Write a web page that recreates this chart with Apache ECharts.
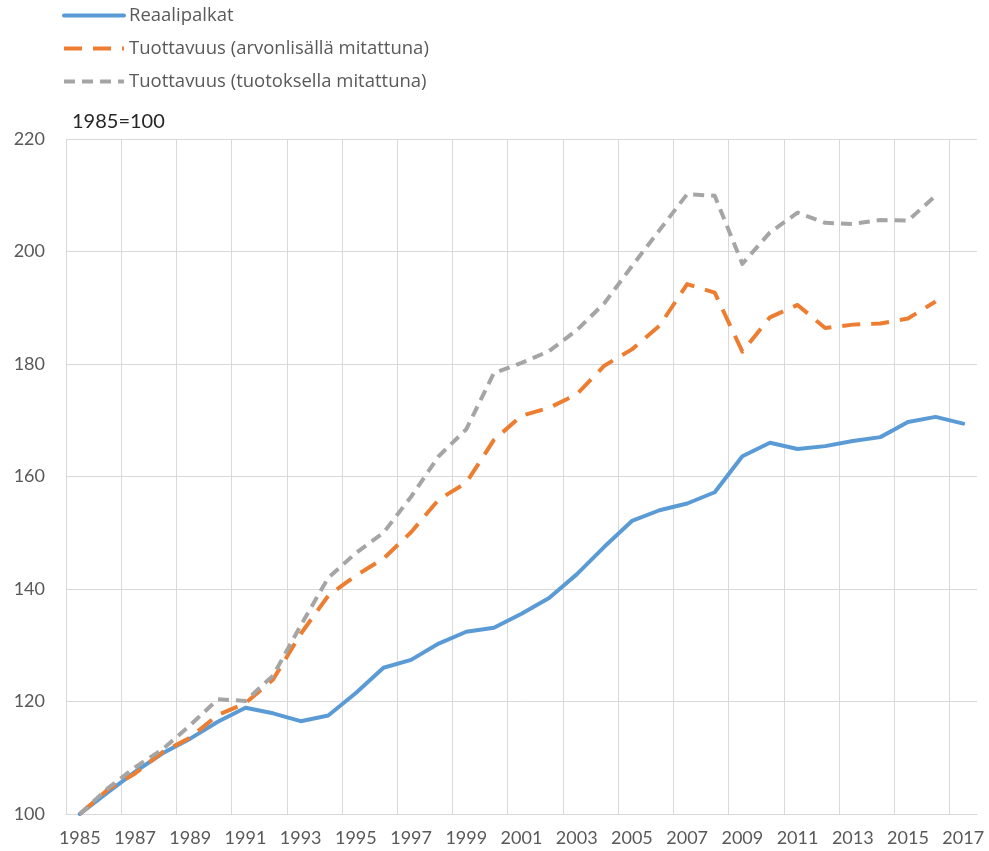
<!DOCTYPE html>
<html><head><meta charset="utf-8">
<script src="https://cdn.jsdelivr.net/npm/echarts@6/dist/echarts.min.js"></script>
<style>html,body{margin:0;padding:0;background:#fff}#c{width:989px;height:851px}</style>
</head><body><div id="c"></div>
<script>
const years = ['1985','1986','1987','1988','1989','1990','1991','1992','1993','1994','1995','1996','1997','1998','1999','2000','2001','2002','2003','2004','2005','2006','2007','2008','2009','2010','2011','2012','2013','2014','2015','2016','2017'];
const reaalipalkat = [100,103.8,107.5,110.8,113.4,116.4,118.9,117.9,116.5,117.5,121.5,126.0,127.4,130.3,132.4,133.1,135.6,138.4,142.6,147.5,152.1,154.0,155.2,157.2,163.6,166.0,164.9,165.4,166.3,167.0,169.7,170.6,169.4];
const tuottavuusArvonlisa = [100,104.3,107.2,111.0,113.6,117.6,119.7,123.9,132.0,138.8,142.4,145.4,150.1,155.9,158.9,166.5,170.8,172.2,174.6,179.7,182.6,186.8,194.2,192.7,182.2,188.3,190.5,186.4,187.0,187.2,188.1,191.1,null];
const tuottavuusTuotos = [100,104.5,108.3,111.5,115.8,120.4,120.1,124.6,133.5,142.0,146.4,150.0,156.4,163.6,168.4,178.4,180.2,182.3,186.0,190.8,197.4,203.8,210.2,209.9,197.8,203.4,206.9,205.1,204.9,205.6,205.5,209.9,null];
const seriesNames = ['Reaalipalkat','Tuottavuus (arvonlisällä mitattuna)','Tuottavuus (tuotoksella mitattuna)'];
const yMin = 100, yMax = 220, yStep = 20;
const baseLabel = '1985=100';

const FONT = 'Lato, "Open Sans", sans-serif';
const grid = '#d9d9d9';
const xSplitColors = [];
for (let i = 0; i < 17; i++) xSplitColors.push(grid);
xSplitColors.push('rgba(0,0,0,0)');

const chart = echarts.init(document.getElementById('c'), null, {renderer: 'canvas'});
chart.setOption({
  animation: false,
  backgroundColor: '#fff',
  textStyle: {fontFamily: FONT},
  title: {text: baseLabel, left: 72, top: 112, padding: 0, textStyle: {fontFamily: FONT, fontSize: 20, fontWeight: 'normal', color: '#262626'}},
  legend: {
    orient: 'vertical', left: 62, top: 6, itemWidth: 60, itemHeight: 14, itemGap: 14, padding: 0,
    itemStyle: {opacity: 0},
    lineStyle: {width: 4},
    textStyle: {fontFamily: '"Open Sans", Lato, sans-serif', fontSize: 18.5, color: '#595959'},
    data: seriesNames
  },
  grid: {left: 66, right: 12, top: 139, bottom: 37, containLabel: false},
  xAxis: {
    type: 'category', data: years, boundaryGap: true,
    axisLine: {show: true, lineStyle: {color: grid, width: 1}},
    axisTick: {show: false},
    axisLabel: {interval: 1, margin: 15, fontSize: 18, color: '#595959', fontFamily: FONT},
    splitLine: {show: true, interval: 1, showMaxLine: false, lineStyle: {color: xSplitColors, width: 1}}
  },
  yAxis: {
    type: 'value', min: yMin, max: yMax, interval: yStep,
    axisLine: {show: false}, axisTick: {show: false},
    axisLabel: {margin: 21, fontSize: 18, color: '#595959', fontFamily: FONT},
    splitLine: {show: true, lineStyle: {color: grid, width: 1}}
  },
  series: [
    {name: seriesNames[0], type: 'line', data: reaalipalkat, symbol: 'none', showSymbol: false,
     color: '#5B9BD5', lineStyle: {color: '#5B9BD5', width: 4, cap: 'round', join: 'round'}, z: 1},
    {name: seriesNames[1], type: 'line', data: tuottavuusArvonlisa, symbol: 'none', showSymbol: false,
     color: '#ED7D31', lineStyle: {color: '#ED7D31', width: 4, type: [18, 11], join: 'round'}, z: 2},
    {name: seriesNames[2], type: 'line', data: tuottavuusTuotos, symbol: 'none', showSymbol: false,
     color: '#A5A5A5', lineStyle: {color: '#A5A5A5', width: 4, type: [11, 7], join: 'round'}, z: 3}
  ]
});
</script></body></html>
